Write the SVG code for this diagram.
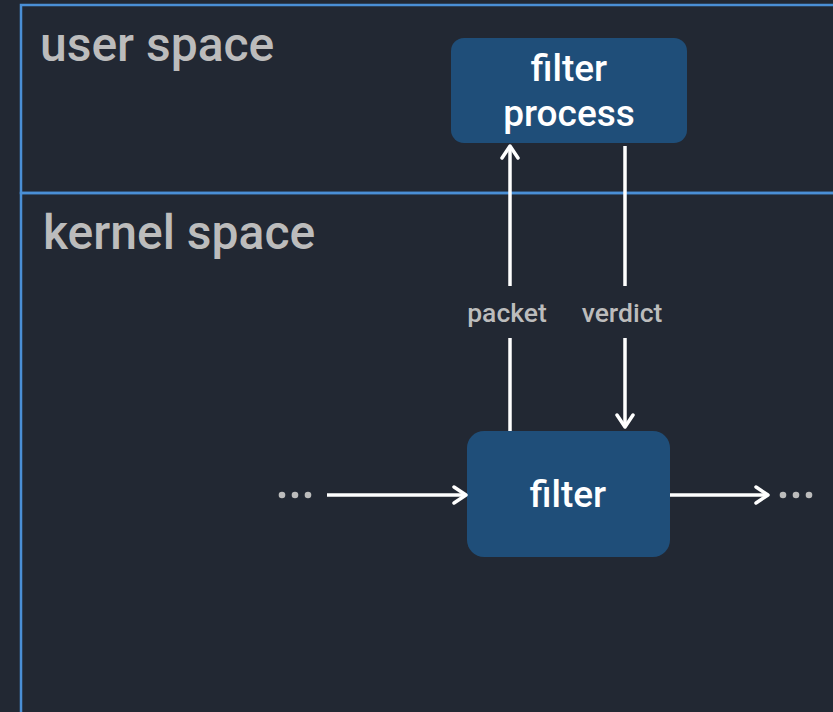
<svg xmlns="http://www.w3.org/2000/svg" width="833" height="712" viewBox="0 0 833 712">
<defs>
<style>
.region{fill:none;stroke:#4a8fd6;stroke-width:2.5}
.title{font-family:Roboto,"Liberation Sans",sans-serif;font-size:48px;font-weight:500;fill:#bcbcbc}
.box{fill:#1f4e79}
.btext{font-family:Roboto,"Liberation Sans",sans-serif;font-size:37px;font-weight:500;fill:#ffffff;text-anchor:middle}
.lbl{font-family:Roboto,"Liberation Sans",sans-serif;font-size:26.5px;font-weight:500;fill:#bcbcbc;text-anchor:middle}
.edge{stroke:#ffffff;stroke-width:3.5;fill:none}
.dot{fill:#bcbcbc}
</style>
<marker id="arr" viewBox="0 0 20 20" refX="18" refY="10" markerWidth="20" markerHeight="20" markerUnits="userSpaceOnUse" orient="auto">
<path d="M6,2 L18,10 L6,18" fill="none" stroke="#ffffff" stroke-width="3.5" stroke-linecap="round" stroke-linejoin="round"/>
</marker>
</defs>
<rect width="833" height="712" fill="#222833"/>
<g id="user-space">
<rect class="region" x="21" y="5" width="830" height="188"/>
<text class="title" x="40" y="61">user space</text>
</g>
<g id="kernel-space">
<rect class="region" x="21" y="193" width="830" height="540"/>
<text class="title" x="43" y="249">kernel space</text>
</g>
<g id="filter-process">
<rect class="box" x="451" y="38" width="236" height="105" rx="13"/>
<text class="btext" x="569" y="81">filter</text>
<text class="btext" x="569" y="126">process</text>
</g>
<g id="filter">
<rect class="box" x="467" y="431" width="203" height="126" rx="17"/>
<text class="btext" x="568" y="507">filter</text>
</g>
<g id="connectors">
<line class="edge" x1="510" y1="431" x2="510" y2="338"/>
<line class="edge" x1="510" y1="286" x2="510" y2="146" marker-end="url(#arr)"/>
<line class="edge" x1="625" y1="146" x2="625" y2="286"/>
<line class="edge" x1="625" y1="338" x2="625" y2="427" marker-end="url(#arr)"/>
<line class="edge" x1="327" y1="495" x2="466" y2="495" marker-end="url(#arr)"/>
<line class="edge" x1="670" y1="495" x2="768" y2="495" marker-end="url(#arr)"/>
<text class="lbl" x="507" y="322">packet</text>
<text class="lbl" x="622" y="322">verdict</text>
<circle class="dot" cx="282" cy="495" r="3.3"/>
<circle class="dot" cx="295" cy="495" r="3.3"/>
<circle class="dot" cx="308" cy="495" r="3.3"/>
<circle class="dot" cx="783" cy="495" r="3.3"/>
<circle class="dot" cx="796" cy="495" r="3.3"/>
<circle class="dot" cx="809" cy="495" r="3.3"/>
</g>
</svg>
